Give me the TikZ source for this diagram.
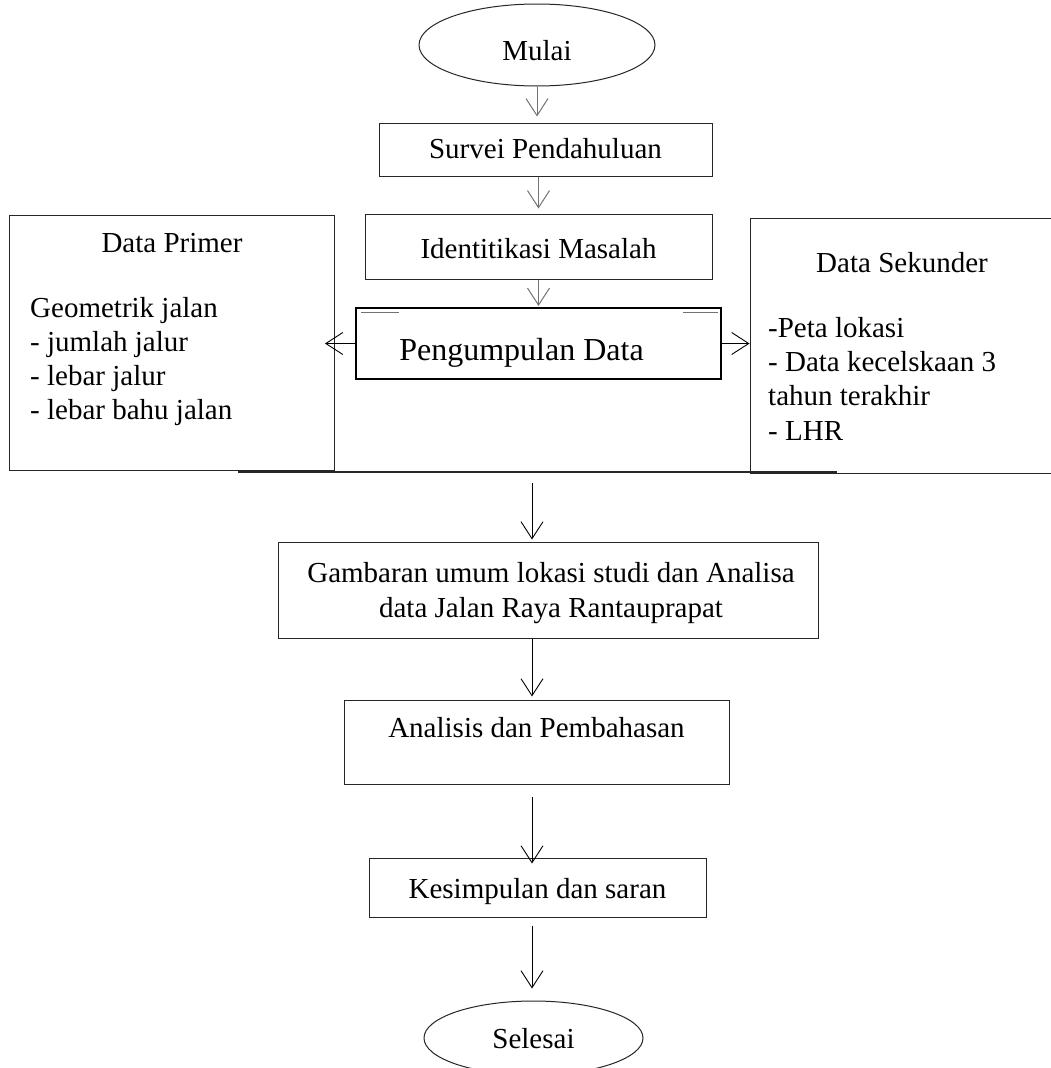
\documentclass[tikz,border=0pt]{standalone}
\usepackage{fontspec}
\setmainfont{Liberation Serif}
\usetikzlibrary{arrows.meta,shapes.geometric}
\begin{document}
\begin{tikzpicture}[x=1pt,y=-1pt,
  box/.style={draw=black!85, line width=1pt, rectangle, inner sep=0pt},
  oval/.style={draw=black!85, line width=1pt, ellipse, inner sep=0pt},
  txt/.style={font=\fontsize{29}{34}\selectfont, inner sep=0pt, anchor=base},
  ltxt/.style={font=\fontsize{29}{34}\selectfont, inner sep=0pt, anchor=base west, align=left},
  arrg/.style={draw=black!55, line width=1pt, -{Straight Barb[length=17pt,width=22pt,line width=1pt]}},
  arrb/.style={draw=black, line width=0.9pt, -{Straight Barb[length=17pt,width=22pt,line width=0.9pt]}}
]
\useasboundingbox (0,0) rectangle (1050,1068);
\fill[white] (0,0) rectangle (1050,1068);

% shapes
\node[oval, minimum width=236pt, minimum height=82pt] (mulai) at (537,45) {};
\node[box, minimum width=333pt, minimum height=53pt] (survei) at (545.5,149.5) {};
\node[box, minimum width=347pt, minimum height=65pt] (ident) at (538.5,246.5) {};
\node[box, line width=2pt, draw=black, minimum width=365pt, minimum height=71pt] (peng) at (538.5,343.5) {};
\node[box, minimum width=325pt, minimum height=255pt] (primer) at (172,342.5) {};
\node[box, minimum width=310pt, minimum height=255pt] (sekunder) at (905,345.5) {};
\node[box, minimum width=540pt, minimum height=96pt] (gambaran) at (548,590) {};
\node[box, minimum width=385pt, minimum height=84pt] (analisis) at (536.5,742) {};
\node[box, minimum width=337pt, minimum height=59pt] (kesimpulan) at (537.5,887.5) {};
\node[oval, minimum width=219pt, minimum height=74pt] (selesai) at (533.5,1038) {};

% texts
\node[txt] (tmulai) at (537,60) {Mulai};
\node[txt] (tsurvei) at (545.5,158) {Survei Pendahuluan};
\node[txt] (tident) at (538.5,258) {Identitikasi Masalah};
\node[txt, font=\fontsize{32}{38}\selectfont] (tpeng) at (521.5,360) {Pengumpulan Data};
\node[txt] (tprimer) at (172,252) {Data Primer};
\node[ltxt] (tprimerb) at (30,419) {Geometrik jalan\\- jumlah jalur\\- lebar jalur\\- lebar bahu jalan};
\node[txt] (tsek) at (902,272) {Data Sekunder};
\node[ltxt, font=\fontsize{29}{34.3}\selectfont] (tsekb) at (768,440) {-Peta lokasi\\- Data kecelskaan 3\\tahun terakhir\\- LHR};
\node[txt, align=center, font=\fontsize{29}{35}\selectfont] (tgamb) at (551,617) {Gambaran umum lokasi studi dan Analisa\\data Jalan Raya Rantauprapat};
\node[txt] (tanal) at (536.5,737) {Analisis dan Pembahasan};
\node[txt] (tkes) at (537.5,898) {Kesimpulan dan saran};
\node[txt] (tsel) at (533.5,1048) {Selesai};

% decorative short lines inside Pengumpulan Data
\draw[black!55, line width=0.8pt] (361,312) -- (399,312);
\draw[black!55, line width=0.8pt] (683,312) -- (718,312);

% merge line
\coordinate (mL) at (238,472);
\coordinate (mR) at (837,472);
\coordinate (mC) at (532,483);
\draw[black!85, line width=1.2pt] (mL) -- (mR);

% connectors
\draw[arrg] (mulai.south) -- ([yshift=6pt]mulai.south |- survei.north);
\draw[arrg] (survei.south -| ident.south) -- ([yshift=5pt]ident.north);
\draw[arrg] (ident.south) -- ([yshift=1pt]peng.north);
\draw[arrb] (peng.west) -- ([xshift=-10pt]primer.east |- peng.west);
\draw[arrb] (peng.east) -- (sekunder.west |- peng.east);
\draw[arrb] (mC) -- ([yshift=2pt]mC |- gambaran.north);
\draw[arrb] (gambaran.south -| mC) -- ([yshift=3pt]mC |- analisis.north);
\draw[arrb] ([yshift=-12pt]analisis.south -| mC) -- ([yshift=-6pt]mC |- kesimpulan.north);
\draw[arrb] ([yshift=-8pt]kesimpulan.south -| mC) -- ([yshift=12pt]mC |- selesai.north);
\end{tikzpicture}
\end{document}
